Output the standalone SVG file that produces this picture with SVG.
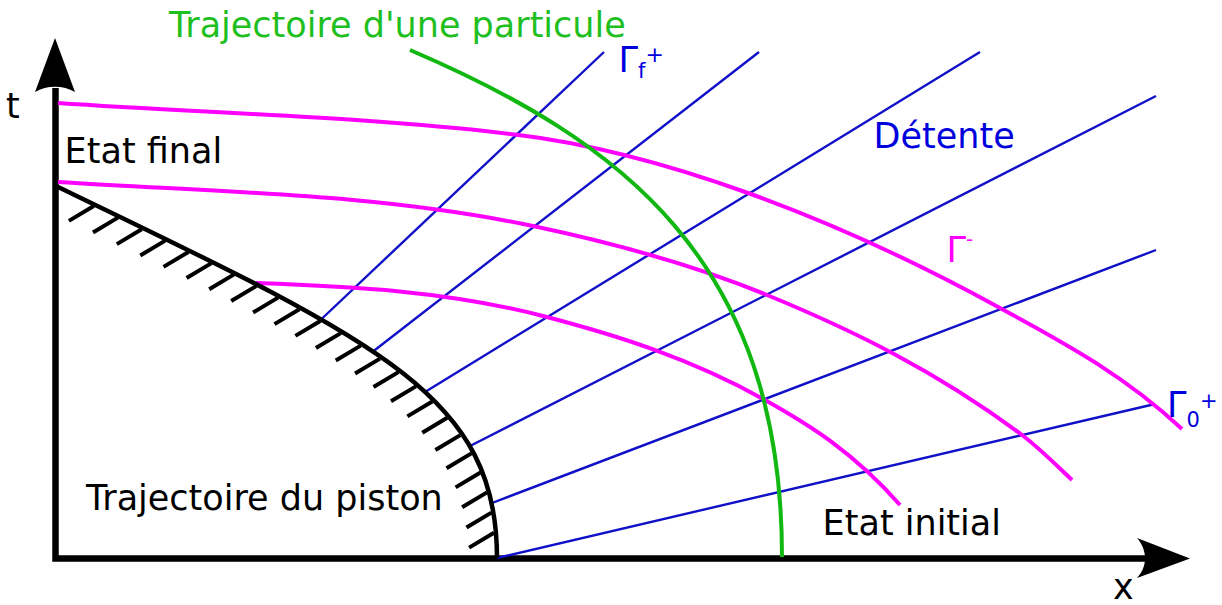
<svg xmlns="http://www.w3.org/2000/svg" width="1222" height="605" viewBox="0 0 1222 605">
  <style>
    text { font-family: "DejaVu Sans", "Liberation Sans", sans-serif; font-size: 35px; }
    .black { fill: #000; }
    .blueT { fill: #0000dd; }
    .magT { fill: #ff00ff; }
    .greenT { fill: #1fbf1f; }
    .axis { fill: none; stroke: #000; stroke-width: 6.5; stroke-linejoin: miter; }
    .head { fill: #000; stroke: none; }
    .piston { fill: none; stroke: #000; stroke-width: 4.5; }
    .hatch { fill: none; stroke: #000; stroke-width: 4; }
    .blue { fill: none; stroke: #1010c8; stroke-width: 2.4; }
    .mag { fill: none; stroke: #ff00ff; stroke-width: 4; }
    .green { fill: none; stroke: #12b812; stroke-width: 4; }
  </style>
  <rect width="1222" height="605" fill="#fff"/>

  <g id="axes">
    <path class="axis" d="M55.5,88 L55.5,558.5 L1146,558.5"/>
    <path class="head" d="M55,38 L35,92 C47,85 63,85 75,92 Z"/>
    <path class="head" d="M1190,558.5 L1137,538 C1147.7,550 1147.7,567 1137,578 Z"/>
    <text class="black" x="6" y="118">t</text>
    <text class="black" x="1113" y="599">x</text>
  </g>

  <g id="connectors">
    <g id="gamma-plus">
      <line class="blue" x1="321" y1="319.5" x2="604" y2="52"/>
      <line class="blue" x1="373" y1="351.5" x2="759" y2="52"/>
      <line class="blue" x1="425" y1="392" x2="980" y2="52"/>
      <line class="blue" x1="470" y1="446" x2="1156" y2="96"/>
      <line class="blue" x1="492" y1="503" x2="1156" y2="250"/>
      <line class="blue" x1="497" y1="558" x2="1155" y2="404"/>
    </g>
    <g id="gamma-minus">
      <path class="mag" d="M58,103 C210,113.5 363,116.3 515,134.5 C592.7,143.8 670.3,165 748,193 C832,223.2 916,261.8 1000,308 C1060.7,341.4 1121.3,372.6 1182,429"/>
      <path class="mag" d="M58,182 C216.3,192.3 374.7,192.8 533,226 C611,242.4 689,263 767,295 C852,329.9 937,371.25 1022,435 C1038.7,447.5 1055.3,464.2 1072,480"/>
      <path class="mag" d="M256,283 C351.7,286.3 447.3,291.1 543,316 C617,335.2 691,358.6 765,400 C810,425.2 855,453.25 900,505"/>
    </g>
    <path id="particle" class="green" d="M410,50 C620,140 782,260 782,557"/>
  </g>

  <g id="piston">
    <path class="piston" d="M56,186 C380,342 497,395 497,558"/>
    <path class="hatch" d="M93.8,206 L68.9,220.9 M117.9,217.6 L93,232.5 M141.7,229.2 L116.8,244.1 M165.2,240.6 L140.3,255.5 M188.4,252 L163.5,266.9 M211.5,263.1 L186.6,278 M234.1,274.4 L209.2,289.3 M256.1,286.1 L231.2,301 M278,297.6 L253.1,312.5 M299.4,309.2 L274.5,324.1 M320.3,321 L295.4,335.9 M340.8,333.1 L315.9,348 M360.7,345.6 L335.8,360.5 M380,358.6 L355.1,373.5 M398.4,372.1 L373.5,387 M415.9,386.4 L391,401.3 M432.3,401.5 L407.4,416.4 M447.2,417.8 L422.3,432.7 M460.3,435.1 L435.4,450 M471.4,453.4 L446.5,468.3 M480.5,472.5 L455.6,487.4 M487,492.4 L462.1,507.3 M491.4,512.6 L466.5,527.5 M494,532.7 L469.1,547.6"/>
  </g>

  <g id="labels">
    <text id="title" class="greenT" x="169" y="36.5">Trajectoire d'une particule</text>
    <text id="etat-final" class="black" x="64.6" y="163">Etat final</text>
    <text id="piston-label" class="black" x="86" y="510">Trajectoire du piston</text>
    <text id="etat-initial" class="black" x="822.6" y="535">Etat initial</text>
    <text id="detente" class="blueT" x="873.6" y="148">Détente</text>
    <text id="gamma-f" class="blueT" x="618.6" y="72" font-size="34">Γ<tspan font-size="21" dy="6">f</tspan><tspan font-size="22" dy="-16">+</tspan></text>
    <text id="gamma-m" class="magT" x="946.6" y="262" font-size="34">Γ<tspan font-size="20" dy="-16">-</tspan></text>
    <text id="gamma-0" class="blueT" x="1167" y="417" font-size="31">Γ<tspan font-size="21" dy="10">0</tspan><tspan font-size="21" dy="-19">+</tspan></text>
  </g>
</svg>
